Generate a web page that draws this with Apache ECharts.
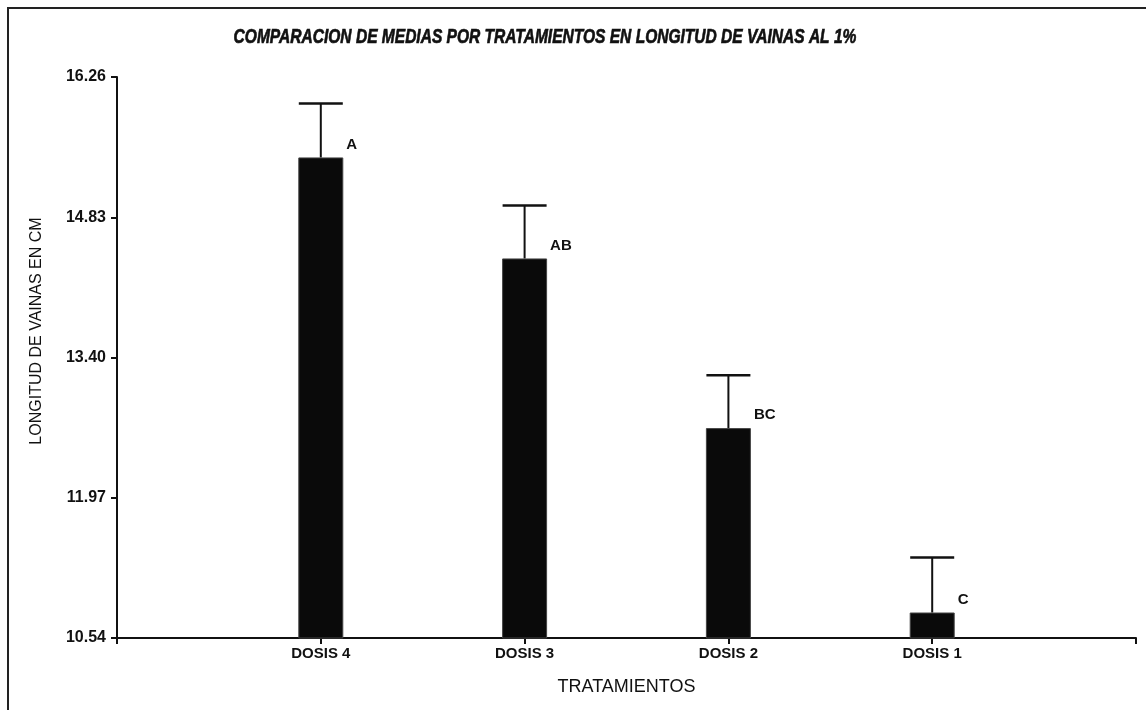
<!DOCTYPE html>
<html><head><meta charset="utf-8">
<script src="https://cdn.jsdelivr.net/npm/echarts@6/dist/echarts.min.js"></script>
<style>html,body{margin:0;padding:0;background:#fff}#c{width:1146px;height:710px}</style>
</head><body><div id="c"></div>
<script>
const categories = ['DOSIS 4', 'DOSIS 3', 'DOSIS 2', 'DOSIS 1'];
const means = [15.44, 14.41, 12.68, 10.80];
const errorTops = [15.99, 14.95, 13.22, 11.36];
const groupLetters = ['A', 'AB', 'BC', 'C'];
const yTicks = [10.54, 11.97, 13.40, 14.83, 16.26];
const titleText = 'COMPARACION DE MEDIAS POR TRATAMIENTOS EN LONGITUD DE VAINAS AL 1%';
const yName = 'LONGITUD DE VAINAS EN CM';
const xName = 'TRATAMIENTOS';

const chart = echarts.init(document.getElementById('c'));
const barData = means.map((v, i) => [i + 1, v]);
const errData = means.map((v, i) => [i + 1, v, errorTops[i]]);
const txt = '#111';
const font = 'Liberation Sans, Arial, sans-serif';
chart.setOption({
  animation: false,
  backgroundColor: '#fff',
  graphic: [{
    type: 'rect', shape: { x: 8, y: 8, width: 1160, height: 720 },
    style: { fill: 'none', stroke: '#222', lineWidth: 2 }, silent: true
  }, {
    type: 'text', x: 545, y: 37, scaleX: 0.74, silent: true,
    style: { text: titleText, textAlign: 'center', textVerticalAlign: 'middle',
      font: 'italic bold 21px Liberation Sans, Arial, sans-serif', fill: txt,
      stroke: txt, lineWidth: 0.7 }
  }, {
    type: 'text', x: 37, y: 331, rotation: Math.PI / 2, silent: true,
    style: { text: yName, textAlign: 'center', textVerticalAlign: 'middle',
      font: '16px Liberation Sans, Arial, sans-serif', fill: txt }
  }],
  grid: { left: 117, right: 10, top: 77, bottom: 72 },
  xAxis: {
    type: 'value', min: 0, max: 5, interval: 1,
    splitLine: { show: false },
    axisLine: { lineStyle: { color: '#111', width: 2 } },
    axisTick: { show: true, length: 6, lineStyle: { color: '#111', width: 2 } },
    axisLabel: {
      color: txt, fontFamily: font, fontWeight: 'bold', fontSize: 15, margin: 8,
      formatter: v => categories[v - 1] || ''
    },
    name: xName, nameLocation: 'middle', nameGap: 40,
    nameTextStyle: { color: txt, fontFamily: font, fontSize: 18 }
  },
  yAxis: {
    type: 'value', min: yTicks[0], max: yTicks[yTicks.length - 1], interval: 1.43,
    splitLine: { show: false },
    axisLine: { show: true, lineStyle: { color: '#111', width: 2 } },
    axisTick: { show: true, length: 6, lineStyle: { color: '#111', width: 2 } },
    axisLabel: {
      color: txt, fontFamily: font, fontWeight: 'bold', fontSize: 16, margin: 11,
      formatter: v => v.toFixed(2)
    }
  },
  series: [{
    type: 'bar', data: barData, barWidth: 45,
    itemStyle: { color: '#0a0a0a', borderColor: '#444', borderWidth: 1 },
    label: {
      show: true, position: ['100%', 0], offset: [3, -13], align: 'left', verticalAlign: 'middle',
      formatter: p => groupLetters[p.dataIndex],
      color: txt, fontFamily: font, fontWeight: 'bold', fontSize: 15
    },
    z: 2
  }, {
    type: 'custom', data: errData, z: 3,
    renderItem: (params, api) => {
      const x = api.value(0);
      const lo = api.coord([x, api.value(1)]);
      const hi = api.coord([x, api.value(2)]);
      const hw = 22;
      return {
        type: 'group', children: [
          { type: 'line', shape: { x1: lo[0], y1: lo[1], x2: hi[0], y2: hi[1] }, style: { stroke: '#111', lineWidth: 2 } },
          { type: 'line', shape: { x1: hi[0] - hw, y1: hi[1], x2: hi[0] + hw, y2: hi[1] }, style: { stroke: '#111', lineWidth: 2.5 } }
        ]
      };
    }
  }]
});
</script></body></html>
